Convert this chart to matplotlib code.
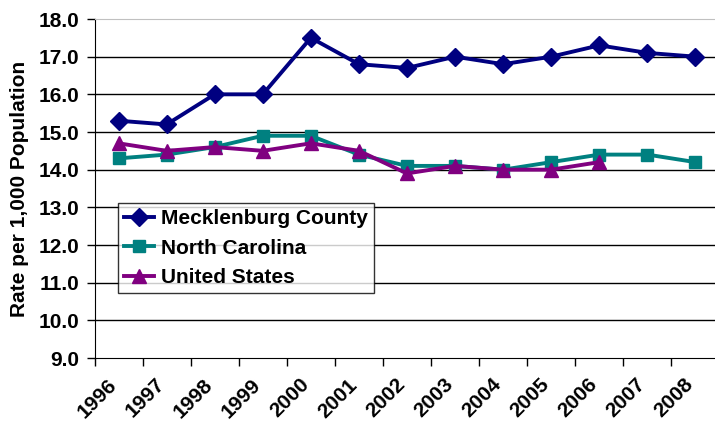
import matplotlib
matplotlib.use("Agg")
import matplotlib.pyplot as plt
from matplotlib.transforms import blended_transform_factory, ScaledTranslation
import numpy as np

years = ["1996", "1997", "1998", "1999", "2000", "2001", "2002",
         "2003", "2004", "2005", "2006", "2007", "2008"]
mecklenburg = [15.3, 15.2, 16.0, 16.0, 17.5, 16.8, 16.7, 17.0, 16.8, 17.0, 17.3, 17.1, 17.0]
north_carolina = [14.3, 14.4, 14.6, 14.9, 14.9, 14.4, 14.1, 14.1, 14.0, 14.2, 14.4, 14.4, 14.2]
united_states = [14.7, 14.5, 14.6, 14.5, 14.7, 14.5, 13.9, 14.1, 14.0, 14.0, 14.2]
yticks = [9.0, 10.0, 11.0, 12.0, 13.0, 14.0, 15.0, 16.0, 17.0, 18.0]

plt.rcParams['font.family'] = ['Liberation Sans', 'DejaVu Sans']
plt.rcParams['font.weight'] = 'bold'

FS = 15
W, H = 715, 425
fig = plt.figure(figsize=(W / 100, H / 100), dpi=100)
left, right, top, bottom = 94.5, 719.5, 19, 358
ax = fig.add_axes([left / W, 1 - bottom / H, (right - left) / W, (bottom - top) / H])

x = np.arange(len(years))
ax.plot(x, mecklenburg, color='#000080', lw=2.8, marker='D', ms=9,
        label='Mecklenburg County', clip_on=False, zorder=5)
ax.plot(x, north_carolina, color='#008080', lw=2.8, marker='s', ms=9,
        label='North Carolina', clip_on=False, zorder=4)
ax.plot(x[:len(united_states)], united_states, color='#800080', lw=2.8, marker='^', ms=10.5,
        label='United States', clip_on=False, zorder=6)

ax.set_xlim(-0.5, len(years) - 0.5)
ax.set_ylim(9.0, 18.0)
ax.set_yticks(yticks)
ax.set_yticklabels([f"{v:.1f}" for v in yticks], fontsize=FS, fontweight='bold')
ax.tick_params(axis='y', length=6, width=1, pad=5, color='black')

ax.set_xticks(np.arange(-0.5, len(years) + 0.5, 1.0))
ax.set_xticklabels([])
ax.tick_params(axis='x', length=6, width=1, color='black')

trans = blended_transform_factory(ax.transData, ax.transAxes) + ScaledTranslation(-5 / 100, 0, fig.dpi_scale_trans)
for i, lab in enumerate(years):
    ax.text(i, -0.07, lab, transform=trans, rotation=45, ha='right', va='center',
            rotation_mode='anchor', fontsize=FS, fontweight='bold')

for v in yticks[1:-1]:
    ax.axhline(v, color='black', lw=1, zorder=1)

ax.spines['left'].set_color('black')
ax.spines['bottom'].set_color('black')
ax.spines['top'].set_color('#c0c0c0')
ax.spines['right'].set_visible(False)

ax.set_ylabel('Rate per 1,000 Population', fontsize=FS, fontweight='bold', labelpad=7)

leg = ax.legend(loc='upper left', bbox_to_anchor=((118 - left) / (right - left), (bottom - 203) / (bottom - top)),
                fontsize=FS, frameon=True, fancybox=False, edgecolor='black',
                borderpad=0.3, labelspacing=0.5, handlelength=1.45, handletextpad=0.3,
                borderaxespad=0)
leg.get_frame().set_linewidth(1)
for t in leg.get_texts():
    t.set_fontweight('bold')

fig.savefig('out.png', dpi=100)
